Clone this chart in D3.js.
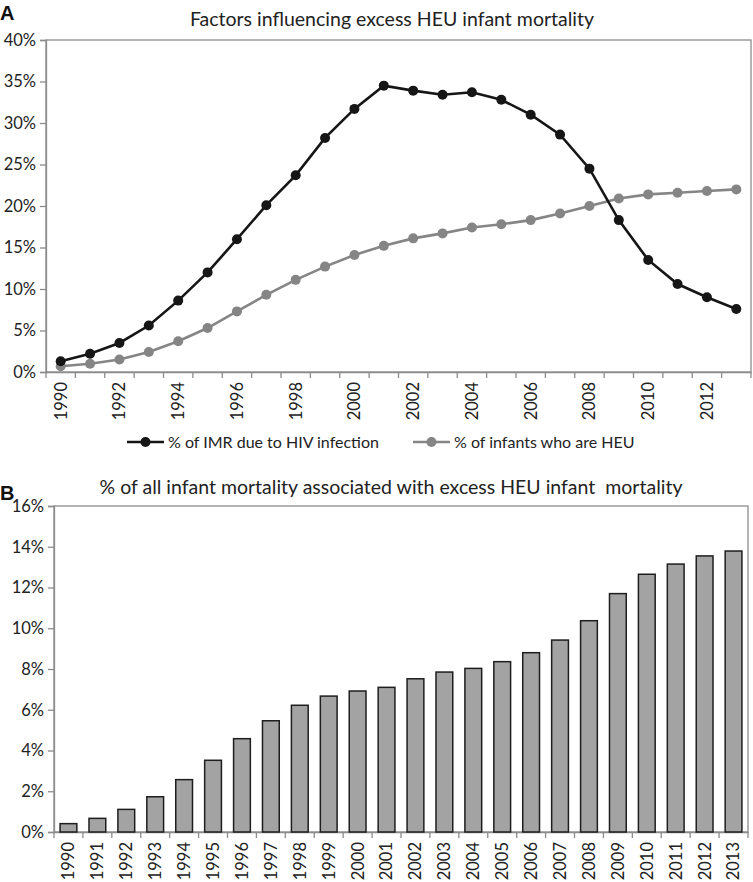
<!DOCTYPE html>
<html><head><meta charset="utf-8">
<script src="https://cdn.jsdelivr.net/npm/d3@7"></script>
<style>
html,body{margin:0;padding:0;background:#fff;}
svg{display:block;font-family:Lato, "Open Sans", sans-serif;}
</style></head>
<body>
<svg id="chart" width="753" height="882"></svg>
<script>
const years = d3.range(1990, 2014);
const imrHIV = [1.3,2.2,3.5,5.6,8.6,12.0,16.0,20.1,23.7,28.2,31.7,34.5,33.9,33.4,33.7,32.8,31.0,28.6,24.5,18.3,13.5,10.6,9.0,7.6];
const infantsHEU = [0.7,1.0,1.5,2.4,3.7,5.3,7.3,9.3,11.1,12.7,14.1,15.2,16.1,16.7,17.4,17.8,18.3,19.1,20.0,20.9,21.4,21.6,21.8,22.0];
const excessMort = [0.41,0.67,1.11,1.73,2.57,3.52,4.58,5.46,6.22,6.67,6.92,7.10,7.52,7.85,8.03,8.36,8.80,9.42,10.37,11.70,12.65,13.15,13.55,13.79];
const topTicks = [0,5,10,15,20,25,30,35,40];
const botTicks = [0,2,4,6,8,10,12,14,16];
const seriesNames = ["% of IMR due to HIV infection","% of infants who are HEU"];
const titleA = "Factors influencing excess HEU infant mortality";
const titleB = "% of all infant mortality associated with excess HEU infant\u00a0 mortality";

const svg = d3.select("#chart");
const axisCol = "#8c8c8c";
const textCol = "#222";
const blackCol = "#161616";
const greyCol = "#858585";
const tickFont = 16.5;

function styleAxis(g){
  g.select(".domain").attr("stroke",axisCol).attr("stroke-width",1.3);
  g.selectAll(".tick line").attr("stroke",axisCol).attr("stroke-width",1.3);
  g.selectAll("text").attr("font-size",tickFont).attr("fill",textCol).attr("font-family","Lato, sans-serif");
}
function rotateLabels(g){
  g.selectAll(".tick text").attr("transform","rotate(-90)").attr("text-anchor","end")
    .attr("x",-10).attr("y",0).attr("dy","0.36em");
}

// ---------- Panel A ----------
const A = {l:46, r:751, t:40, b:372};
const xA = d3.scaleBand().domain(years).range([A.l, A.r]);
const yA = d3.scaleLinear().domain([0,40]).range([A.b, A.t]);

svg.append("text").attr("x",0).attr("y",20).attr("font-size",20).attr("font-weight","bold")
  .attr("font-family","Liberation Sans, Arial, sans-serif").attr("fill","#111").text("A");
svg.append("text").attr("x",392).attr("y",26).attr("text-anchor","middle")
  .attr("font-size",19.5).attr("fill",textCol).text(titleA);

svg.append("rect").attr("x",A.l).attr("y",A.t).attr("width",A.r-A.l).attr("height",A.b-A.t)
  .attr("fill","none").attr("stroke",axisCol).attr("stroke-width",1.3);

const gyA = svg.append("g").attr("transform",`translate(${A.l},0)`)
  .call(d3.axisLeft(yA).tickValues(topTicks).tickSize(6).tickPadding(4).tickFormat(d=>d+"%"));
const gxA = svg.append("g").attr("transform",`translate(0,${A.b})`)
  .call(d3.axisBottom(xA).tickSize(0).tickPadding(8).tickFormat(d=> d%2===0 ? d : ""));
rotateLabels(gxA);
gxA.selectAll(".bt").data(d3.range(25)).enter().append("line").attr("class","bt")
  .attr("x1",i=>A.l+i*xA.step()).attr("x2",i=>A.l+i*xA.step())
  .attr("y1",0).attr("y2",6).attr("stroke",axisCol).attr("stroke-width",1.3);
styleAxis(gyA); styleAxis(gxA);

const lineA = d3.line().x((d,i)=>xA(years[i])+xA.bandwidth()/2).y(d=>yA(d));
[[infantsHEU,greyCol],[imrHIV,blackCol]].forEach(([data,col])=>{
  svg.append("path").datum(data).attr("d",lineA).attr("fill","none").attr("stroke",col).attr("stroke-width",2.6);
  svg.append("g").selectAll("circle").data(data).enter().append("circle")
    .attr("cx",(d,i)=>xA(years[i])+xA.bandwidth()/2).attr("cy",d=>yA(d)).attr("r",5).attr("fill",col);
});

// legend
const legY = 442;
const legItems = [{name:seriesNames[0],col:blackCol,x:127},{name:seriesNames[1],col:greyCol,x:413}];
legItems.forEach(it=>{
  const g = svg.append("g");
  g.append("line").attr("x1",it.x).attr("x2",it.x+37).attr("y1",legY).attr("y2",legY).attr("stroke",it.col).attr("stroke-width",2.6);
  g.append("circle").attr("cx",it.x+18.5).attr("cy",legY).attr("r",5).attr("fill",it.col);
  g.append("text").attr("x",it.x+41).attr("y",legY+5.5).attr("font-size",16).attr("fill",textCol).text(it.name);
});

// ---------- Panel B ----------
const B = {l:54, r:748, t:506, b:832};
const xB = d3.scaleBand().domain(years).range([B.l, B.r]).paddingInner(0.42).paddingOuter(0.21);
const yB = d3.scaleLinear().domain([0,16]).range([B.b, B.t]);

svg.append("text").attr("x",0).attr("y",500).attr("font-size",20).attr("font-weight","bold")
  .attr("font-family","Liberation Sans, Arial, sans-serif").attr("fill","#111").text("B");
svg.append("text").attr("x",391).attr("y",494).attr("text-anchor","middle")
  .attr("font-size",19.5).attr("fill",textCol).text(titleB);

svg.append("rect").attr("x",B.l).attr("y",B.t).attr("width",B.r-B.l).attr("height",B.b-B.t)
  .attr("fill","none").attr("stroke",axisCol).attr("stroke-width",1.3);

const gyB = svg.append("g").attr("transform",`translate(${B.l},0)`)
  .call(d3.axisLeft(yB).tickValues(botTicks).tickSize(6).tickPadding(4).tickFormat(d=>d+"%"));
const gxB = svg.append("g").attr("transform",`translate(0,${B.b})`)
  .call(d3.axisBottom(xB).tickSize(0).tickPadding(8));
rotateLabels(gxB);
gxB.selectAll(".bt").data(d3.range(25)).enter().append("line").attr("class","bt")
  .attr("x1",i=>B.l+i*(B.r-B.l)/24).attr("x2",i=>B.l+i*(B.r-B.l)/24)
  .attr("y1",0).attr("y2",6).attr("stroke",axisCol).attr("stroke-width",1.3);
styleAxis(gyB); styleAxis(gxB);

svg.append("g").selectAll("rect").data(excessMort).enter().append("rect")
  .attr("x",(d,i)=>xB(years[i])).attr("width",xB.bandwidth())
  .attr("y",d=>yB(d)).attr("height",d=>B.b-yB(d))
  .attr("fill","#a3a3a3").attr("stroke","#1e1e1e").attr("stroke-width",1.5);
</script>
</body></html>
